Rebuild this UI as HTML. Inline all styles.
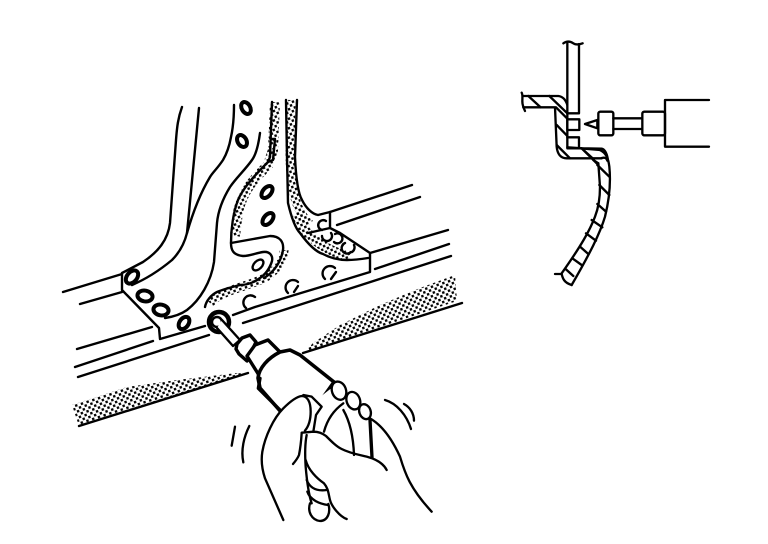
<!DOCTYPE html>
<html>
<head>
<meta charset="utf-8">
<title>Diagram</title>
<style>
html,body{margin:0;padding:0;background:#fff}
svg{display:block}
</style>
</head>
<body>
<svg xmlns="http://www.w3.org/2000/svg" width="768" height="544" viewBox="0 0 768 544">
<defs>
<pattern id="d" width="6" height="6" patternUnits="userSpaceOnUse" patternTransform="rotate(-18)">
<rect x="0" y="0" width="2.4" height="2.4" fill="#000"/>
<rect x="3" y="3" width="2.4" height="2.4" fill="#000"/>
</pattern>
</defs>
<rect width="768" height="544" fill="#fff"/>

<!-- dotted areas -->
<g fill="none" stroke="url(#d)">
<path d="M72 405 L127 387 L177 380 L237 373 L246 373 L248 373 L79 426 Z" fill="url(#d)" stroke="none"/>
<path d="M304 353 L313 343 L340 325 L380 305 L420 288 L455 275 L457 301 Z" fill="url(#d)" stroke="none"/>
<path d="M291 100 L290 157 C291 190 296 212 310 224" stroke-width="9"/>
<path d="M295 215 C305 235 325 252 350 256" stroke-width="10"/>
<path d="M275 102 L273 150 L268 165 C255 178 243 190 238 212 L235 236" stroke-width="10"/>
<path d="M284 250 C284 262 272 276 258 281 C240 288 220 292 210 303" stroke-width="9"/>
</g>

<!-- main panel lines -->
<g fill="none" stroke="#000" stroke-width="2.4" stroke-linecap="round" stroke-linejoin="round">
<path d="M182 107 C178 118 177 127 176 140 L170 223 C168 240 158 252 143 262 L122 273"/>
<path d="M199 108 L187 233 C184 245 178 254 172 260 C160 270 146 279 132 285"/>
<path d="M234 105 C234 118 233 128 231 137 C229 148 226 155 223 160 C217 169 213 172 210 177 C201 192 193 212 187 233"/>
<path d="M260 133 C258 148 255 156 252 160 C245 170 236 178 230 187 C222 200 218 212 217 223 L214 262 C211 282 200 300 187 310 C180 315 172 317 165 318"/>
<path d="M272 102 L270 157 L268 162 C255 175 243 188 238 200 C233 213 231 230 231 243 L270 236 C280 236 284 242 283 250 C281 262 274 272 264 278"/>
<path d="M231 243 C231 250 233 255 243 256 C250 256 256 253 263 252 C270 251 273 256 272 261 C270 268 265 275 260 278 C252 284 245 285 240 285 C232 287 224 289 217 292 C211 295 206 301 205 307"/>
<path d="M272 139 L275 139 L273 160 L268 162"/>
<path d="M286 100 L287 157 L288 203 C292 220 296 229 300 233 C308 244 316 252 323 254 C332 259 340 260 347 260 C355 260 362 259 368 258"/>
<path d="M297 100 L295 157 C296 180 298 193 302 200 C306 208 312 214 318 215 L330 212 L412 185"/>
<path d="M330 212 L330 228 L340 233 L370 253 L370 272 L255 307 L233 315"/>
<path d="M337 225 L420 197"/>
<path d="M308 233 L330 228"/>
<path d="M370 253 L448 230"/>
<path d="M375 269 L449 244"/>
<path d="M243 323 L451 256"/>
<path d="M63 292 L122 274 L122 290 L159 328 L160 339 L205 326"/>
<path d="M80 304 L122 292"/>
<path d="M77 349 L152 327"/>
<path d="M75 367 L153 341"/>
<path d="M78 377 L209 335"/>
<path d="M79 426 L248 373"/>
<path d="M303 353 L462 303"/>
</g>

<!-- solid holes -->
<g fill="none" stroke="#000" stroke-width="4">
<ellipse cx="246" cy="108" rx="4.2" ry="6.4" transform="rotate(-30 246 108)"/>
<ellipse cx="242" cy="141" rx="4.4" ry="6.4" transform="rotate(-30 242 141)"/>
<ellipse cx="267" cy="192" rx="4.2" ry="7" transform="rotate(40 267 192)"/>
<ellipse cx="268" cy="219" rx="4.2" ry="7" transform="rotate(40 268 219)"/>
<ellipse cx="132" cy="277" rx="5" ry="7.5" transform="rotate(40 132 277)"/>
<ellipse cx="145" cy="296" rx="7.6" ry="5.4" transform="rotate(10 145 296)"/>
<ellipse cx="161" cy="310" rx="7.6" ry="5.4" transform="rotate(10 161 310)"/>
<ellipse cx="184" cy="323" rx="4.5" ry="6.8" transform="rotate(35 184 323)"/>
</g>
<ellipse cx="258" cy="265" rx="4" ry="6.5" transform="rotate(45 258 265)" fill="none" stroke="#000" stroke-width="2.4"/>

<!-- broken holes -->
<g fill="none" stroke="#000" stroke-width="2.4" stroke-linecap="round">
<path d="M255 297 A5.5 5.5 0 1 0 246 308"/>
<path d="M298 282 A5.5 5.5 0 1 0 288 293 M298 286 L294 292"/>
<path d="M335 268 A5.5 5.5 0 1 0 325 279 M336 272 L331 279"/>
<path d="M326 221 A5 5 0 1 0 322 230"/>
<path d="M322 236 A5 5 0 1 0 331 233 M335 234 A5 5 0 1 1 334 242"/>
<path d="M345 243 A5.5 5.5 0 1 0 351 252 M354 245 A5.5 5.5 0 0 1 352 252"/>
</g>

<!-- drill -->
<g fill="#fff" stroke="#000" stroke-linejoin="round" stroke-linecap="round">
<circle cx="219" cy="322" r="10" stroke-width="4.5"/>
<circle cx="217" cy="322" r="5" stroke-width="2.4"/>
<path d="M222 320 L240 340 L233 346 L217 328" stroke-width="2.4"/>
<path d="M237 344 L242 338 L250 335 L256 342 L247 361 L239 354 L236 349 Z" stroke-width="3.4"/>
<path d="M247 356 L255 345 L268 340 L280 352 L262 380 Z" stroke-width="3.4"/>
<path d="M280 352 L290 350 L300 355 L334 382 L300 430 L281 412 L260 388 L258 378 C259 368 268 358 280 352 Z" stroke-width="3.6"/>
</g>

<!-- hand -->
<g transform="translate(200 300) scale(.33333)" fill="none" stroke="#000" stroke-width="7" stroke-linecap="round" stroke-linejoin="round">
<path d="M245 335 L175 265 L180 235" stroke-width="10"/>
<path fill="#fff" stroke="none" d="M250 660 L195 530 L185 465 L205 385 L250 325 L300 290 L355 295 L400 260 L520 350 L570 410 L605 480 L630 560 L695 635 L440 657 L360 663 L330 645 Z"/>
<path d="M250 660 L195 535 C185 505 183 480 187 455 C195 410 220 355 250 325 C270 305 290 290 305 288 C322 288 332 305 332 335 C332 360 325 380 315 392"/>
<path d="M310 285 L335 290 L365 320 L348 345 L340 395"/>
<path d="M305 400 C303 430 300 450 297 465 C293 475 285 485 279 492"/>
<path d="M305 398 L340 395 C355 395 368 400 378 408 C395 425 410 440 425 447 C450 460 480 465 500 470 C530 478 550 490 560 510"/>
<path d="M320 405 C315 430 315 470 317 500 C320 535 325 580 335 610"/>
<path d="M317 480 C325 510 350 535 372 550 C385 565 385 580 390 600 C395 620 420 650 440 657"/>
<path d="M320 540 C328 560 345 575 380 570"/>
<path d="M322 575 C330 600 360 612 385 615"/>
<path d="M330 610 C322 635 335 660 360 663 C385 662 392 635 385 612"/>
<path d="M372 395 C380 365 395 335 430 310"/>
<path d="M430 330 C450 365 460 410 462 465"/>
<path d="M510 360 L516 472" stroke-width="10"/>
<path d="M510 355 C545 375 575 415 600 470 C615 520 630 565 695 635"/>
<ellipse cx="417" cy="272" rx="21" ry="28" fill="#fff" transform="rotate(-20 417 272)"/>
<ellipse cx="460" cy="302" rx="20" ry="27" fill="#fff" transform="rotate(-20 460 302)"/>
<ellipse cx="495" cy="335" rx="17" ry="23" fill="#fff" transform="rotate(-20 495 335)"/>
<path d="M105 380 L95 437"/>
<path d="M148 378 C132 410 122 450 130 487"/>
<path d="M555 300 C590 310 620 345 633 387"/>
<path d="M612 312 C630 322 642 340 642 362"/>
</g>

<!-- right detail -->
<g transform="translate(510 30) scale(.33333)" fill="none" stroke="#000" stroke-width="7" stroke-linecap="round" stroke-linejoin="round">
<path d="M160 40 C170 33 180 33 190 40 C198 45 208 44 218 40"/>
<path d="M172 38 L172 352"/>
<path d="M207 42 L207 248"/>
<path d="M172 250 L207 250"/>
<rect x="172" y="268" width="36" height="32"/>
<path d="M172 322 L207 322 L207 355 L172 355"/>
<path d="M35 188 C42 200 30 215 45 243"/>
<path d="M40 198 L145 198 C160 200 168 212 172 225"/>
<path d="M40 232 L135 232 L140 350 C142 372 152 385 170 385 L275 385 M272 385 C285 380 290 385 292 392"/>
<path d="M138 232 L172 266"/>
<path d="M55 198 L92 232 M118 198 L172 250"/>
<path d="M140 285 L172 318 M140 345 L180 385"/>
<path d="M172 352 L215 355 L275 356 C285 358 290 370 293 385"/>
<path d="M215 355 L248 385"/>
<path d="M225 282 L262 270 L262 295 Z"/>
<rect x="265" y="245" width="45" height="71" rx="6"/>
<path d="M310 265 L395 265 M310 297 L395 297"/>
<rect x="397" y="245" width="68" height="71" rx="6"/>
<path d="M597 210 L465 210 L465 350 L597 350"/>
</g>
<g transform="translate(540 130) scale(.33333)" fill="none" stroke="#000" stroke-width="7" stroke-linecap="round" stroke-linejoin="round">
<path d="M175 100 L180 170 C180 205 175 235 165 260 C150 300 125 345 65 430"/>
<path d="M180 60 C198 68 205 85 208 110 C212 150 210 200 195 260 C180 310 150 370 95 465"/>
<path d="M160 90 L175 100 M120 55 L180 60"/>
<path d="M125 55 L170 100 M172 105 L208 140 M178 165 L208 195 M172 222 L198 245 M155 270 L187 292 M138 310 L168 332 M120 350 L145 372 M97 385 L125 405 M78 418 L100 438"/>
<path d="M45 432 L65 432 C68 445 72 458 95 465"/>
</g>
</svg>
</body>
</html>
